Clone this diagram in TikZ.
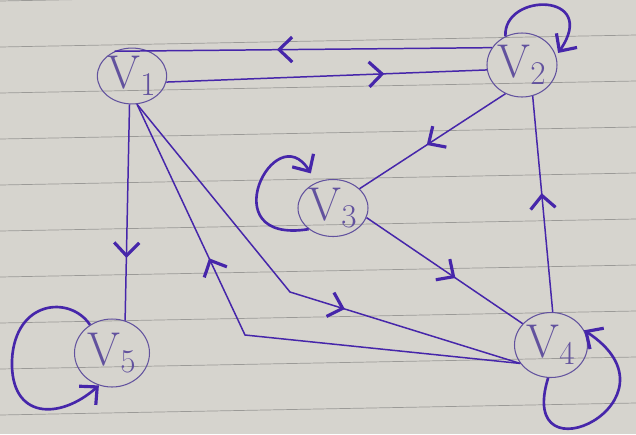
\RequirePackage{fix-cm}
\documentclass[tikz,border=0pt]{standalone}
\usepackage{fontspec}
\usepackage{tikz}
\usetikzlibrary{positioning,arrows.meta,shapes.geometric,decorations.markings}
\definecolor{ink}{RGB}{70,38,170}
\definecolor{pencil}{RGB}{98,82,158}
\definecolor{paper}{RGB}{214,212,206}
\definecolor{ruling}{RGB}{155,154,151}

\begin{document}
\begin{tikzpicture}[x=0.02cm,y=-0.02cm,>={Straight Barb[length=2.6mm,width=5mm,line width=1.8pt]},
  vtx/.style={ellipse,draw=pencil,line width=0.6pt,inner sep=0pt,text=pencil,font=\fontsize{27}{29}\selectfont},
  link/.style={draw=ink,line width=0.85pt},
  loopline/.style={draw=ink,line width=1.5pt,->},
  midtip/.style={postaction={decorate,decoration={markings,mark=at position #1 with {\arrow[ink]{>}}}}}]
% ---- paper with ruled lines ----
\useasboundingbox (0,0) rectangle (636,434);
\fill[paper] (0,0) rectangle (636,434);
\begin{scope}
\clip (0,0) rectangle (636,434);
\foreach \k in {-1,...,8} {\draw[ruling,line width=0.4pt] (0,47+46*\k) -- (636,35+46*\k);}
\end{scope}
% ---- vertices ----
\node[vtx,minimum width=1.16cm,minimum height=1.1cm] (v1) at (132,76) {V$_1$};
\node[vtx,minimum width=1.4cm,minimum height=1.28cm] (v2) at (522,65) {V$_2$};
\node[vtx,minimum width=1.4cm,minimum height=1.14cm] (v3) at (333,208) {V$_3$};
\node[vtx,minimum width=1.46cm,minimum height=1.3cm] (v4) at (551,345) {V$_4$};
\node[vtx,minimum width=1.5cm,minimum height=1.36cm] (v5) at (112,353) {V$_5$};
% ---- straight edges ----
\draw[link,midtip=0.57] (v2.150) -- (v1.125);
\draw[link,midtip=0.68] (v1.-10) -- (v2.188);
\draw[link,midtip=0.54] (v2.240) -- (v3.36);
\draw[link,midtip=0.57] (v3.344) -- (v4.143);
\draw[link,midtip=0.55] (v4.87) -- (v2.289);
\draw[link,midtip=0.71] (v1.265) -- (v5.68);
% ---- bent edges between v1 and v4 ----
\coordinate (k14) at (290,292);
\coordinate (k41) at (245,335);
\draw[link,midtip=0.62] (v1.280) -- (k14) -- (v4.211);
\draw[link,midtip=0.68] (v4.211) -- (k41) -- (v1.280);
% ---- self loops ----
\draw[loopline,shorten >=2pt] (v2.120) .. controls (503,-8) and (600,-8) .. (v2.15);
\draw[loopline,shorten >=6pt] (v3.221) .. controls (210,245) and (275,115) .. (v3.123);
\draw[loopline] (v4.265) .. controls (515,485) and (690,400) .. (v4.24);
\draw[loopline] (v5.128) .. controls (70,295) and (15,300) .. (12,360) .. controls (10,420) and (60,420) .. (v5.248);
\end{tikzpicture}
\end{document}
